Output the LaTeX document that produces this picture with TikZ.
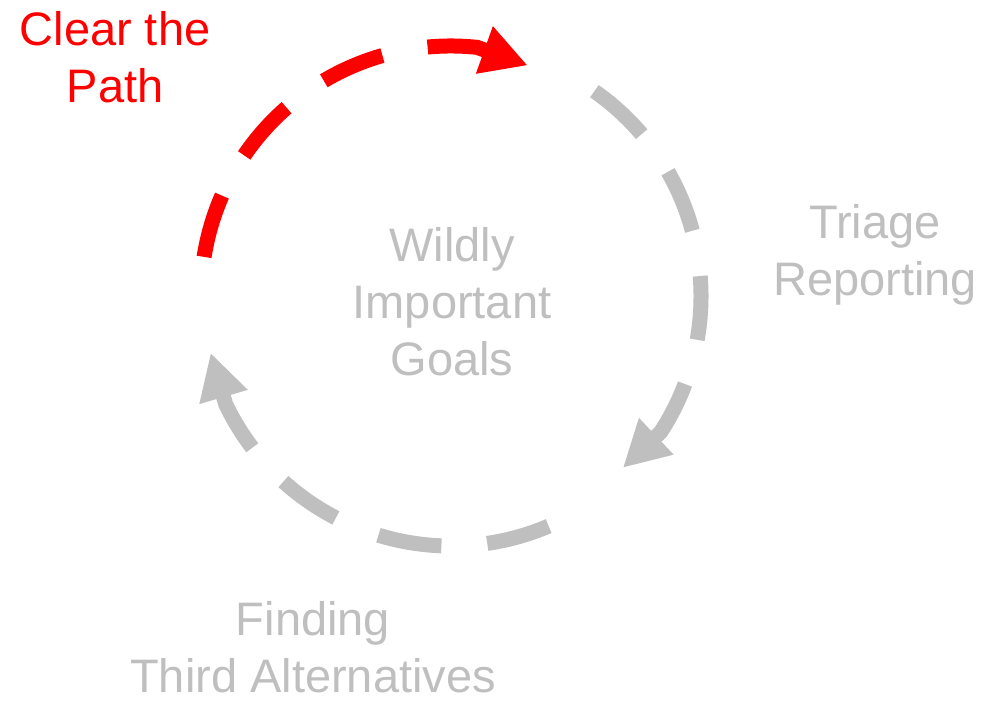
\documentclass[tikz,border=0pt]{standalone}
\usepackage{fontspec}
\setmainfont{Liberation Sans}
\usetikzlibrary{arrows.meta}
\definecolor{clearred}{RGB}{255,0,0}
\definecolor{fadegrey}{RGB}{191,191,191}

\begin{document}
\begin{tikzpicture}[x=1pt, y=1pt,
    steptext/.style={align=center, inner sep=0pt, font=\fontsize{47}{57}\selectfont},
    looparc/.style={line width=15pt, dash pattern=on 64pt off 46pt,
        -{Triangle[length=46pt, width=47pt]}}]
    \useasboundingbox (0,0) rectangle (985,701);
    \coordinate (c) at (451,405);

    \node[steptext, text=clearred] (clear) at (115,644) {Clear the\\Path};
    \node[steptext, text=fadegrey] (goals) at (452,399) {Wildly\\Important\\Goals};
    \node[steptext, text=fadegrey] (triage) at (875,446) {Triage\\Reporting};
    \node[steptext, text=fadegrey] (third) at (313,54) {Finding\\Third Alternatives};

    % arrow tips sit a little inside the ring
    \coordinate (tipA) at ([shift={(71.6:243)}]c);
    \coordinate (tipB) at ([shift={(-45:243)}]c);
    \coordinate (tipC) at ([shift={(193.3:247)}]c);

    \draw[looparc, clearred] (c) ++(171:250) arc[start angle=171, end angle=84, radius=250] -- (tipA);
    \draw[looparc, fadegrey] (c) ++(55:250) arc[start angle=55, end angle=-33, radius=250] -- (tipB);
    \draw[looparc, fadegrey] (c) ++(-67:250) arc[start angle=-67, end angle=-154.3, radius=250] -- (tipC);
\end{tikzpicture}
\end{document}
